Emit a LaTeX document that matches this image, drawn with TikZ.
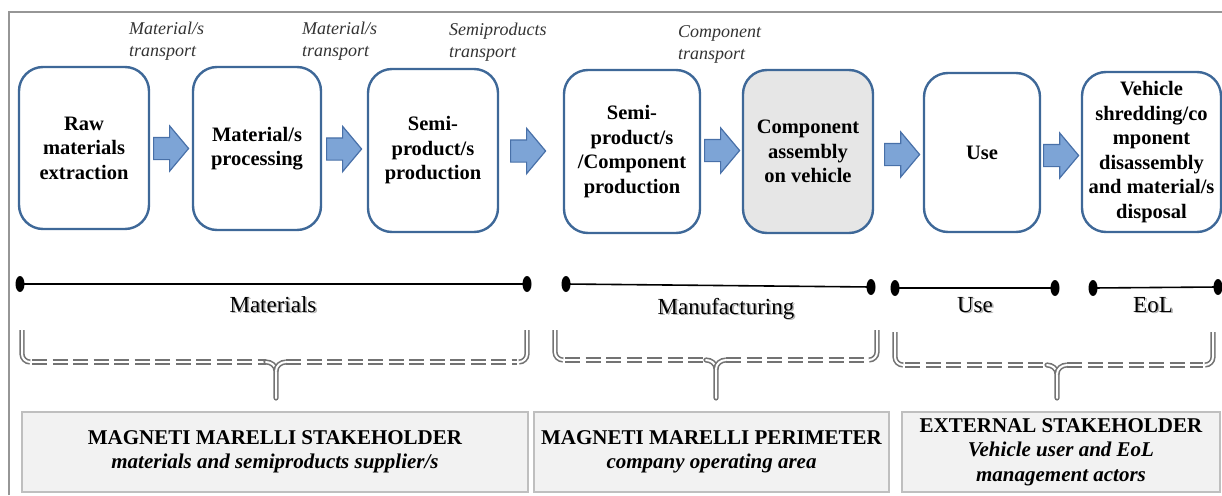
\documentclass[tikz,border=0pt]{standalone}
\usepackage{fontspec}
\setmainfont{LiberationSerif}[
  Extension=.ttf,
  UprightFont=*-Regular,
  BoldFont=*-Bold,
  ItalicFont=*-Italic,
  BoldItalicFont=*-BoldItalic]
\usetikzlibrary{shapes.arrows,shapes.geometric}

\definecolor{boxline}{RGB}{62,104,152}
\definecolor{arrfill}{RGB}{125,164,214}
\definecolor{arrline}{RGB}{72,112,168}
\definecolor{asmfill}{RGB}{230,230,230}
\definecolor{panelfill}{RGB}{242,242,242}
\definecolor{panelline}{RGB}{191,191,191}
\definecolor{bracecol}{RGB}{115,115,115}
\definecolor{framecol}{RGB}{150,150,150}

\tikzset{
  stage/.style={draw=boxline, line width=2.4pt, rounded corners=24pt, fill=white,
    align=center, inner sep=2pt, font=\fontsize{20.5}{24.5}\selectfont\bfseries},
  flow/.style={single arrow, draw=arrline, fill=arrfill, line width=1.2pt,
    minimum height=35pt, minimum width=44pt, single arrow head extend=11.5pt,
    single arrow tip angle=100, inner xsep=0pt, inner ysep=10.5pt},
  transport/.style={anchor=west, align=left, inner sep=0pt, text=black!80,
    font=\fontsize{18}{22}\selectfont\itshape},
  tdot/.style={ellipse, fill=black, inner sep=0pt, minimum width=9pt, minimum height=16pt},
  timeline/.style={line width=1.6pt, black},
  tlabel/.style={anchor=base, inner sep=0pt, font=\fontsize{23}{26}\selectfont},
  bracebase/.style={draw=bracecol, line width=1.6pt, double=white, double distance=2pt},
  bracedash/.style={bracebase, dash pattern=on 15pt off 5.5pt},
  panel/.style={draw=panelline, fill=panelfill, line width=1.2pt, minimum height=80pt,
    align=center, inner sep=0pt, font=\fontsize{21}{24.5}\selectfont\bfseries}
}

% a horizontal brace: left x, right x, middle x, top y, bar y, tip y
\newcommand{\phasebrace}[6]{%
  \draw[bracebase] (#1,#4) -- (#1,#5-8) to[out=-90,in=180] (#1+8,#5);
  \draw[bracebase] (#2,#4) -- (#2,#5-8) to[out=-90,in=0] (#2-8,#5);
  \draw[bracedash] (#1+10,#5) -- (#3-10,#5);
  \draw[bracedash] (#3+10,#5) -- (#2-10,#5);
  \draw[bracebase, line cap=round] (#3-10,#5) to[out=0,in=90] (#3,#5+9) -- (#3,#6);
  \draw[bracebase] (#3+10,#5) to[out=180,in=90] (#3,#5+9);
}

\begin{document}
\begin{tikzpicture}[x=1pt, y=-1pt]
\useasboundingbox (0,0) rectangle (1222,495);

% outer frame
\draw[framecol, line width=1.2pt] (9,495) -- (9,12) -- (1222,12);

% life-cycle stages
\node[stage, minimum width=130pt, minimum height=162pt] (s1) at (84,148) {Raw\\materials\\extraction};
\node[stage, minimum width=128pt, minimum height=163pt] (s2) at (257,148.5) {Material/s\\processing};
\node[stage, minimum width=130pt, minimum height=163pt] (s3) at (433,150.5) {Semi-\\product/s\\production};
\node[stage, minimum width=136pt, minimum height=163pt] (s4) at (632,151.5) {Semi-\\product/s\\/Component\\production};
\node[stage, fill=asmfill, minimum width=130pt, minimum height=163pt] (s5) at (808,151.5) {Component\\assembly\\on vehicle};
\node[stage, minimum width=116pt, minimum height=159pt] (s6) at (982,152.5) {Use};
\node[stage, minimum width=139pt, minimum height=160pt] (s7) at (1151.5,152) {Vehicle\\shredding/co\\mponent\\disassembly\\and material/s\\disposal};

% block arrows between stages
\node[flow, anchor=tail] (a1) at (153,148.5) {};
\node[flow, anchor=tail] (a2) at (326,149) {};
\node[flow, anchor=tail] (a3) at (510,151) {};
\node[flow, anchor=tail] (a4) at (704,150.5) {};
\node[flow, anchor=tail] (a5) at (884,154.5) {};
\node[flow, anchor=tail] (a6) at (1043,155.5) {};

% transport labels
\node[transport] (t1) at (129,41) {Material/s\\transport};
\node[transport] (t2) at (302,41) {Material/s\\transport};
\node[transport] (t3) at (449,42) {Semiproducts\\transport};
\node[transport] (t4) at (678,44) {Component\\transport};

% phase timelines
\node[tdot] (m1) at (20,284) {};
\node[tdot] (m2) at (527,284) {};
\node[tdot] (f1) at (566,284) {};
\node[tdot] (f2) at (871,287) {};
\node[tdot] (u1) at (895,288) {};
\node[tdot] (u2) at (1055,288) {};
\node[tdot] (e1) at (1093,288) {};
\node[tdot] (e2) at (1218,287) {};
\draw[timeline] (m1.center) -- (m2.center);
\draw[timeline] (f1.center) -- (f2.center);
\draw[timeline] (u1.center) -- (u2.center);
\draw[timeline] (e1.center) -- (e2.center);

% phase names with soft shadow
\foreach \t/\x/\y in {Materials/273/312, Manufacturing/726/314, Use/975/312, EoL/1153/312}{
  \node[tlabel, text=black!30] at (\x+1.6,\y+1.6) {\t};
  \node[tlabel] at (\x,\y) {\t};
}

% braces grouping the phases
\phasebrace{22}{527}{276}{330}{362}{398}
\phasebrace{555}{877}{716}{330}{360}{398}
\phasebrace{895}{1213}{1057}{332}{365}{398}

% stakeholder panels
\node[panel, minimum width=506pt] (p1) at (275,452)
  {MAGNETI MARELLI STAKEHOLDER\\\itshape materials and semiproducts supplier/s};
\node[panel, minimum width=355pt] (p2) at (711.5,452)
  {MAGNETI MARELLI PERIMETER\\\itshape company operating area};
\node[panel, minimum width=318pt] (p3) at (1061,452)
  {EXTERNAL STAKEHOLDER\\\itshape Vehicle  user and EoL\\\itshape management actors};
\end{tikzpicture}
\end{document}
